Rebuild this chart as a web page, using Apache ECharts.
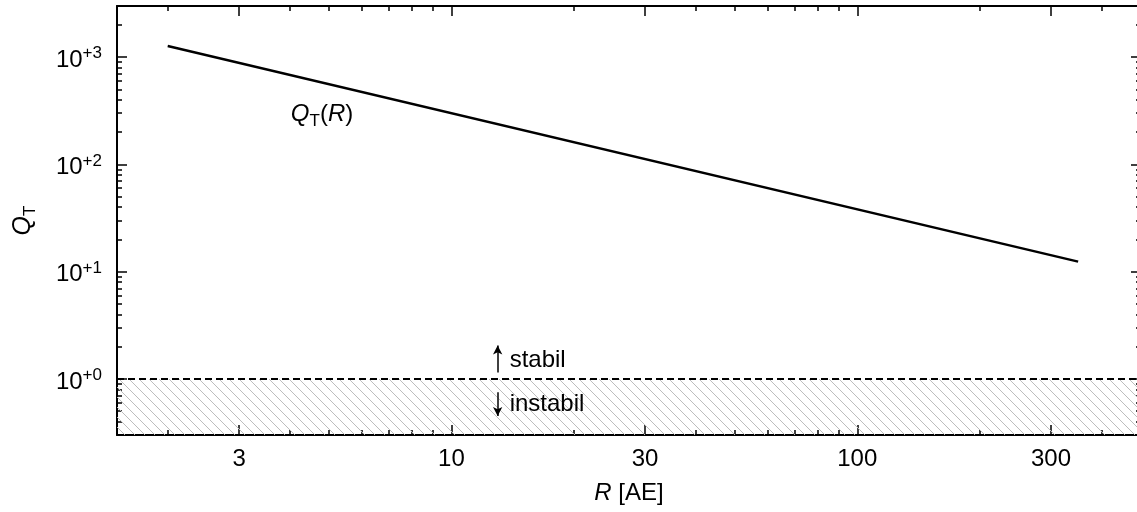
<!DOCTYPE html>
<html><head><meta charset="utf-8">
<script src="https://cdn.jsdelivr.net/npm/echarts@6/dist/echarts.min.js"></script>
<style>html,body{margin:0;padding:0;background:#fff}#c{width:1137px;height:512px}</style>
</head><body><div id="c"></div>
<script>
// ---- data ----
const rRange = [1.5, 500];
const qRange = [0.3, 3000];
const xMajorTicks = [3, 10, 30, 100, 300];
const xMajorLabels = ['3', '10', '30', '100', '300'];
const xMinorTicks = [2, 4, 5, 6, 7, 8, 9, 20, 40, 50, 60, 70, 80, 90, 200, 400];
const yMajorTicks = [1, 10, 100, 1000];
const yMajorExponents = ['+0', '+1', '+2', '+3'];
const yMinorTicks = [0.4, 0.5, 0.6, 0.7, 0.8, 0.9, 2, 3, 4, 5, 6, 7, 8, 9,
  20, 30, 40, 50, 60, 70, 80, 90, 200, 300, 400, 500, 600, 700, 800, 900, 2000];
const curveR = [2, 350];
const curveQ = [1270, 12.4];
const thresholdQ = 1;
const arrowR = 13;
const upArrowQ = [1.15, 2.05];
const downArrowQ = [0.75, 0.45];
const noteLabels = ['stabil', 'instabil'];
const noteQ = [1.5, 0.585];
const curveLabelR = 4.8;
const curveLabelQ = 295;

// ---- helpers ----
const FONT = '"Liberation Sans", Arial, Helvetica, sans-serif';
function nearestIdx(arr, v) {
  let b = 0, d = Infinity;
  arr.forEach((a, i) => { const e = Math.abs(Math.log(a) - Math.log(v)); if (e < d) { d = e; b = i; } });
  return b;
}
const hatch = document.createElement('canvas');
hatch.width = 10; hatch.height = 10;
(function () {
  const g = hatch.getContext('2d');
  g.strokeStyle = '#bdbdbd'; g.lineWidth = 1;
  for (let k = -1; k <= 1; k++) {
    g.beginPath(); g.moveTo(-2, -2 + 10 * k); g.lineTo(12, 12 + 10 * k); g.stroke();
  }
})();

function xAxis(pos, major) {
  const a = {
    type: 'log', logBase: 10, min: rRange[0], max: rRange[1], position: pos, gridIndex: 0,
    axisLine: { show: major, onZero: false, lineStyle: { color: '#000', width: 2 } },
    axisTick: { show: true, inside: true, length: major ? 10 : 5,
      lineStyle: { color: '#000', width: 1.5 }, customValues: major ? xMajorTicks : xMinorTicks },
    axisLabel: { show: major && pos === 'bottom', customValues: xMajorTicks, margin: 12,
      fontFamily: FONT, fontSize: 24, color: '#000',
      formatter: v => xMajorLabels[nearestIdx(xMajorTicks, v)] },
    splitLine: { show: false }, minorTick: { show: false }
  };
  if (major && pos === 'bottom') {
    a.name = '{i|R} [AE]';
    a.nameLocation = 'middle';
    a.nameGap = 46;
    a.nameTextStyle = { fontFamily: FONT, fontSize: 24, color: '#000',
      rich: { i: { fontFamily: FONT, fontSize: 24, fontStyle: 'italic', color: '#000' } } };
  }
  return a;
}
function yAxis(pos, major) {
  const a = {
    type: 'log', logBase: 10, min: qRange[0], max: qRange[1], position: pos, gridIndex: 0,
    axisLine: { show: major, onZero: false, lineStyle: { color: '#000', width: 2 } },
    axisTick: { show: true, inside: true, length: major ? 10 : 5,
      lineStyle: { color: '#000', width: 1.5 }, customValues: major ? yMajorTicks : yMinorTicks },
    axisLabel: { show: major && pos === 'left', customValues: yMajorTicks, margin: 15,
      padding: [6, 0, 0, 0],
      formatter: v => '{b|10}{s|' + yMajorExponents[nearestIdx(yMajorTicks, v)] + '}',
      rich: {
        b: { fontFamily: FONT, fontSize: 24, lineHeight: 30, color: '#000' },
        s: { fontFamily: FONT, fontSize: 17, lineHeight: 17, verticalAlign: 'top', color: '#000' }
      } },
    splitLine: { show: false }, minorTick: { show: false }
  };
  if (major && pos === 'left') {
    a.name = '{i|Q}{sub|T}';
    a.nameLocation = 'middle';
    a.nameRotate = 90;
    a.nameGap = 78;
    a.nameTextStyle = {
      rich: {
        i: { fontFamily: FONT, fontSize: 25, fontStyle: 'italic', lineHeight: 32, color: '#000' },
        sub: { fontFamily: FONT, fontSize: 17, lineHeight: 17, verticalAlign: 'bottom', color: '#000' }
      } };
  }
  return a;
}

const chart = echarts.init(document.getElementById('c'), null, { renderer: 'canvas' });
chart.setOption({
  animation: false,
  backgroundColor: '#fff',
  grid: { left: 117, top: 6, width: 1024, height: 429, containLabel: false, outerBoundsMode: 'none' },
  xAxis: [xAxis('bottom', true), xAxis('bottom', false), xAxis('top', true), xAxis('top', false)],
  yAxis: [yAxis('left', true), yAxis('left', false), yAxis('right', true), yAxis('right', false)],
  series: [
    {
      type: 'line', xAxisIndex: 0, yAxisIndex: 0, z: 2, silent: true,
      data: [[rRange[0], thresholdQ], [rRange[1], thresholdQ]],
      symbol: 'none',
      lineStyle: { color: '#000', width: 2, type: [7, 4] },
      areaStyle: { origin: 'start', color: { image: hatch, repeat: 'repeat' }, opacity: 1 }
    },
    {
      type: 'line', xAxisIndex: 0, yAxisIndex: 0, z: 5, silent: true,
      data: curveR.map((r, i) => [r, curveQ[i]]),
      symbol: 'none',
      lineStyle: { color: '#000', width: 2.5 }
    },
    {
      type: 'scatter', xAxisIndex: 0, yAxisIndex: 0, z: 6, silent: true,
      symbolSize: 0, itemStyle: { opacity: 1, color: '#000' },
      data: noteQ.map(q => [arrowR, q]),
      label: { show: true, position: 'right', distance: 12, color: '#000',
        fontFamily: FONT, fontSize: 24,
        formatter: p => noteLabels[p.dataIndex] },
      markLine: {
        silent: true, symbol: ['none', 'arrow'], symbolSize: [7, 9], label: { show: false },
        lineStyle: { color: '#000', width: 1.5, type: 'solid', opacity: 1 },
        data: [
          [{ coord: [arrowR, upArrowQ[0]] }, { coord: [arrowR, upArrowQ[1]] }],
          [{ coord: [arrowR, downArrowQ[0]] }, { coord: [arrowR, downArrowQ[1]] }]
        ]
      }
    },
    {
      type: 'scatter', xAxisIndex: 0, yAxisIndex: 0, z: 6, silent: true,
      symbolSize: 0, itemStyle: { opacity: 1, color: '#000' },
      data: [[curveLabelR, curveLabelQ]],
      label: { show: true, position: 'inside', color: '#000',
        formatter: '{i|Q}{sub|T}{n|(}{i|R}{n|)}',
        rich: {
          i: { fontFamily: FONT, fontSize: 24, fontStyle: 'italic', lineHeight: 32, color: '#000' },
          n: { fontFamily: FONT, fontSize: 24, lineHeight: 32, color: '#000' },
          sub: { fontFamily: FONT, fontSize: 17, lineHeight: 17, verticalAlign: 'bottom', color: '#000' }
        } }
    }
  ]
});
</script>
</body></html>
